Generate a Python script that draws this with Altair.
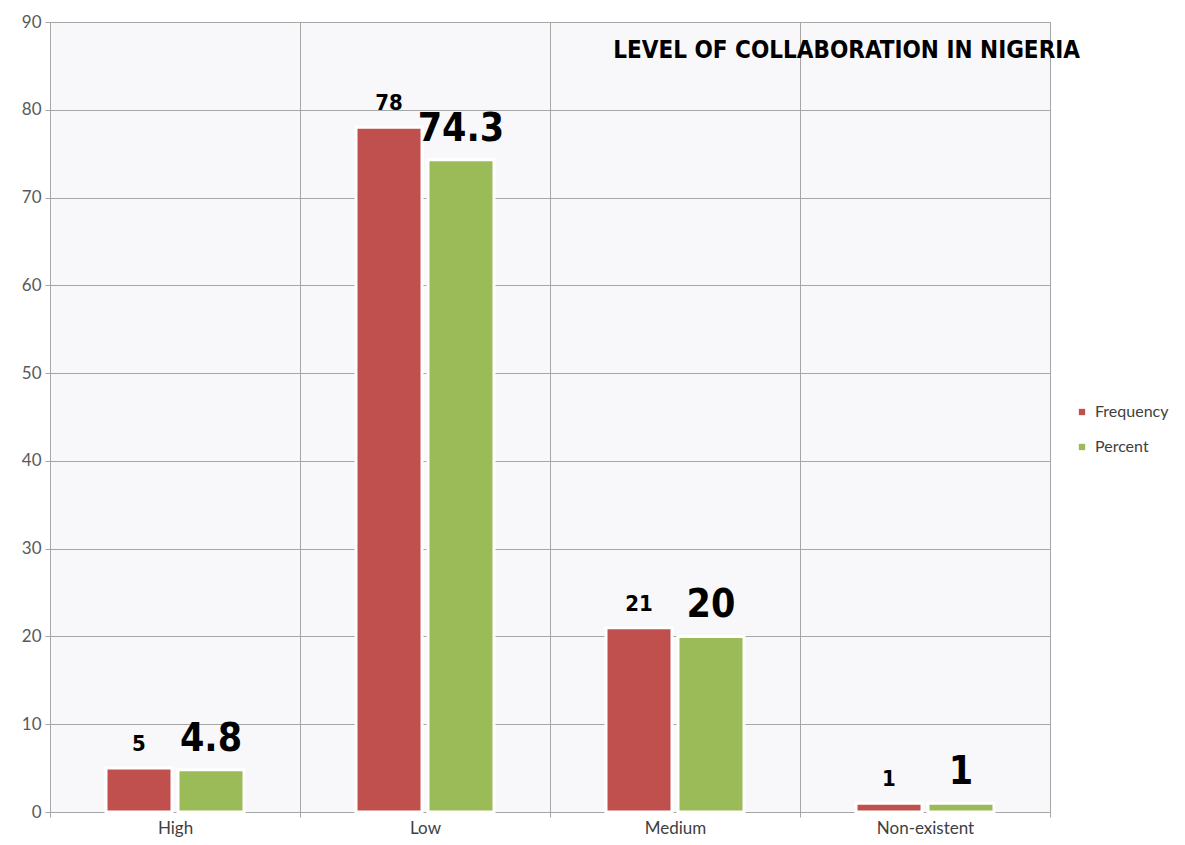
import altair as alt
import pandas as pd

categories = ["High", "Low", "Medium", "Non-existent"]
frequency = [5, 78, 21, 1]
percent = [4.8, 74.3, 20, 1]
series_names = ["Frequency", "Percent"]
series_colors = ["#C0504D", "#9BBB59"]
y_ticks = [0, 10, 20, 30, 40, 50, 60, 70, 80, 90]
title_text = ["LEVEL OF COLLABORATION IN NIGERIA"]

rows = []
for c, f, p in zip(categories, frequency, percent):
    rows.append({"category": c, "series": "Frequency", "value": f})
    rows.append({"category": c, "series": "Percent", "value": p})
df = pd.DataFrame(rows)

COND = "Liberation Sans Narrow, DejaVu Sans Condensed, Arial Narrow, sans-serif"
GRID = "#a6a6a6"

x_enc = alt.X(
    "category:N", sort=categories,
    scale=alt.Scale(paddingInner=0, paddingOuter=0),
    axis=alt.Axis(title=None, labelAngle=0, tickBand="extent", grid=True,
                  gridColor=GRID, domainColor=GRID, tickColor=GRID, tickSize=5,
                  labelFontSize=17, labelColor="#404040", labelFont="Lato",
                  labelPadding=3),
)
xo_enc = alt.XOffset("series:N", sort=series_names,
                     scale=alt.Scale(paddingInner=0.083, paddingOuter=0.778))
y_enc = alt.Y(
    "value:Q", scale=alt.Scale(domain=[0, 90], nice=False),
    axis=alt.Axis(title=None, values=y_ticks, grid=True, gridColor=GRID,
                  domainColor=GRID, tickColor=GRID, tickSize=5,
                  labelFontSize=17, labelColor="#595959", labelFont="Lato",
                  labelPadding=4),
)

base = alt.Chart(df)

bars = base.mark_bar(stroke="white", strokeWidth=3).encode(
    x=x_enc, xOffset=xo_enc, y=y_enc,
    color=alt.Color("series:N", sort=series_names,
                    scale=alt.Scale(domain=series_names, range=series_colors),
                    legend=alt.Legend(orient="none", legendX=1024, legendY=382,
                                      title=None, symbolType="square",
                                      symbolSize=40, symbolStrokeWidth=0,
                                      labelFontSize=16, labelFont="Lato",
                                      labelColor="#404040", rowPadding=19,
                                      labelOffset=5)),
)

freq_labels = base.transform_filter(alt.datum.series == "Frequency").mark_text(
    font=COND, fontWeight="bold", fontSize=22, dy=-17, baseline="alphabetic",
    color="#000000",
).encode(x=x_enc, xOffset=xo_enc, y=y_enc, text=alt.Text("value:Q", format="~g"))

pct_labels = base.transform_filter(alt.datum.series == "Percent").mark_text(
    font=COND, fontWeight="bold", fontSize=39, dy=-19, baseline="alphabetic",
    color="#000000",
).encode(x=x_enc, xOffset=xo_enc, y=y_enc, text=alt.Text("value:Q", format="~g"))

title_layer = alt.Chart(pd.DataFrame({"t": title_text})).mark_text(
    font=COND, fontWeight="bold", fontSize=24, align="right", baseline="middle",
    color="#000000",
).encode(x=alt.value(1030), y=alt.value(29), text="t:N")

chart = alt.layer(bars, freq_labels, pct_labels, title_layer).properties(
    width=1000, height=790,
    padding={"left": 42, "top": 14, "right": 127, "bottom": 25},
    autosize=alt.AutoSizeParams(type="none"),
).configure_view(fill="#f8f8fb", stroke=GRID)

chart.save("out.html", embed_options={"renderer": "svg", "actions": False})
